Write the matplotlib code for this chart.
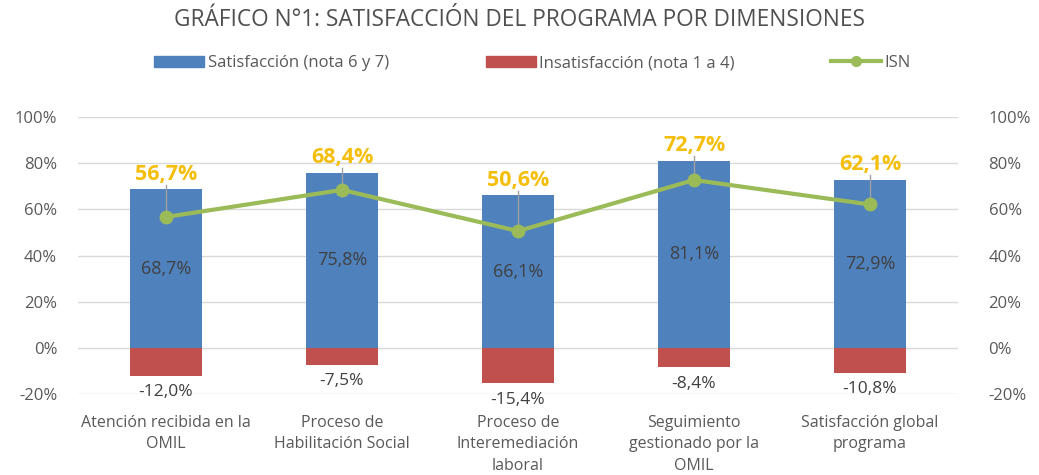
import matplotlib
matplotlib.use("Agg")
import matplotlib.pyplot as plt
from matplotlib.patches import Patch
from matplotlib.lines import Line2D
from matplotlib.ticker import FuncFormatter

plt.rcParams['font.family'] = ['Open Sans', 'DejaVu Sans']

categories = ["Atención recibida en la\nOMIL", "Proceso de\nHabilitación Social",
              "Proceso de\nInteremediación\nlaboral", "Seguimiento\ngestionado por la\nOMIL",
              "Satisfacción global\nprograma"]
satisfaccion = [68.7, 75.8, 66.1, 81.1, 72.9]
insatisfaccion = [-12.0, -7.5, -15.4, -8.4, -10.8]
isn = [56.7, 68.4, 50.6, 72.7, 62.1]
yticks = [-20, 0, 20, 40, 60, 80, 100]

BLUE = "#4F81BD"
RED = "#C0504D"
GREEN = "#9BBB59"
GOLD = "#F5BE0B"
GREY = "#595959"

W, H = 1039, 475
fig = plt.figure(figsize=(W/100, H/100), dpi=100)
ax = fig.add_axes([78/W, 1-394/H, 880/W, 277/H])

x = list(range(len(categories)))
ax.bar(x, satisfaccion, width=0.41, color=BLUE, zorder=2)
ax.bar(x, insatisfaccion, width=0.41, color=RED, zorder=2)
ax.plot(x, isn, color=GREEN, lw=3, marker='o', ms=9, zorder=4)

def fmt(v):
    return f"{v:.1f}%".replace('.', ',')

for xi, s, n, i in zip(x, satisfaccion, insatisfaccion, isn):
    ax.text(xi, s/2, fmt(s), ha='center', va='center', fontsize=13, color="#404040", zorder=5)
    ax.annotate(fmt(n), (xi, n), xytext=(0, -6), textcoords='offset points',
                ha='center', va='top', fontsize=12.5, color="#404040", zorder=5)
    ax.text(xi, s + 6.5, fmt(i), ha='center', va='center', fontsize=15.5,
            fontweight='bold', color=GOLD, zorder=5)
    ax.plot([xi, xi], [s + 2.0, i], color="#A0A0A0", lw=1, zorder=3)

ax.set_xlim(-0.5, len(categories) - 0.5)
ax.set_ylim(-20, 100)
ax.set_yticks(yticks)
ax.yaxis.set_major_formatter(FuncFormatter(lambda v, p: f"{v:.0f}%"))
ax.set_xticks(x)
ax.set_xticklabels(categories, fontsize=11.5, color=GREY, linespacing=1.45)
ax.tick_params(axis='both', length=0, labelsize=12, labelcolor=GREY)
ax.tick_params(axis='x', labelsize=11.5, pad=15)
ax.tick_params(axis='y', pad=15)
ax.grid(axis='y', color="#D9D9D9", lw=1, zorder=0)
for sp in ax.spines.values():
    sp.set_visible(False)

ax2 = ax.twinx()
ax2.set_ylim(-20, 100)
ax2.set_yticks(yticks)
ax2.yaxis.set_major_formatter(FuncFormatter(lambda v, p: f"{v:.0f}%"))
ax2.tick_params(axis='y', length=0, labelsize=12, labelcolor=GREY, pad=22)
for sp in ax2.spines.values():
    sp.set_visible(False)

fig.text(0.5, 1-20/H, "GRÁFICO N°1: SATISFACCIÓN DEL PROGRAMA POR DIMENSIONES",
         ha='center', va='center', fontsize=16.3, color="#505050")

handles = [Patch(color=BLUE), Patch(color=RED),
           Line2D([0], [0], color=GREEN, lw=3, marker='o', ms=7)]
labels = ["Satisfacción (nota 6 y 7)", "Insatisfacción (nota 1 a 4)", "ISN"]
fig.legend(handles, labels, loc='center', bbox_to_anchor=(0.5125, 1-63/H), ncol=3,
           frameon=False, fontsize=12, labelcolor=GREY, columnspacing=5.8,
           handlelength=3.0, handleheight=0.65, handletextpad=0.2)

fig.savefig("out.png", dpi=100)
